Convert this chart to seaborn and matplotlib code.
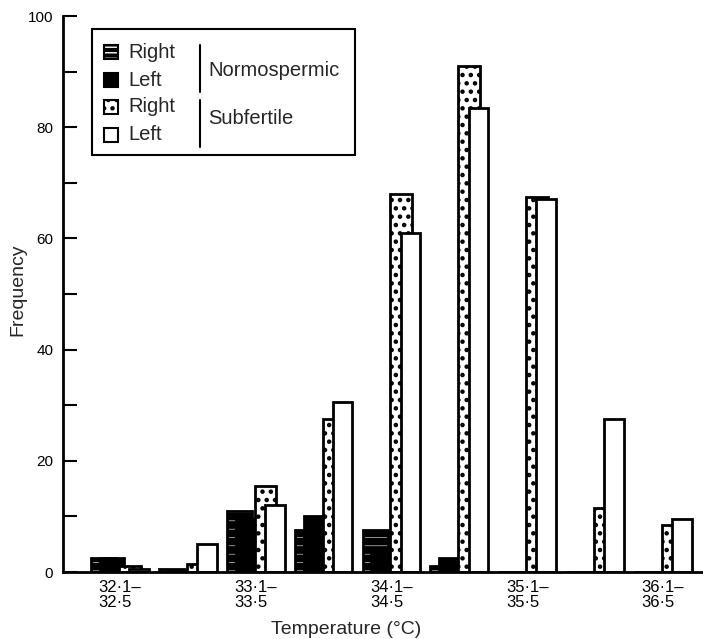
import numpy as np
import seaborn as sns
import matplotlib as mpl

mpl.use("Agg")

import matplotlib.pyplot as plt
from matplotlib.patches import Rectangle


# temperature bins (deg C) and frequencies
BINS = ["32·1–32·5", "32·6–33·0", "33·1–33·5", "33·6–34·0", "34·1–34·5",
        "34·6–35·0", "35·1–35·5", "35·6–36·0", "36·1–36·5"]
NORMO_RIGHT = [2.5, 0.6, 11, 7.5, 7.5, 1, 0, 0, 0]
NORMO_LEFT = [2.5, 0.3, 9.5, 10, 4, 2.5, 0, 0, 0]
SUB_RIGHT = [1, 1.5, 15.5, 27.5, 68, 91, 67.5, 11.5, 8.5]
SUB_LEFT = [0.5, 5, 12, 30.5, 61, 83.5, 67, 27.5, 9.5]
LABELED_BINS = [0, 2, 4, 6, 8]

# bar layout inside one bin (bin = 1 unit): left edge, width
NR_POS, NR_W = 0.0, 0.37
NL_POS, NL_W = 0.13, 0.35
SR_POS, SR_W = 0.41, 0.32
SL_POS, SL_W = 0.56, 0.29
LW = 2.0

sns.set_theme(style="ticks")
plt.rcParams["font.family"] = ["Liberation Sans", "DejaVu Sans"]
plt.rcParams["hatch.linewidth"] = 1.2

fig = plt.figure(figsize=(7.03, 6.39), dpi=100)
ax = fig.add_axes([63 / 703, 67 / 639, 640 / 703, 556 / 639])

idx = np.arange(len(BINS))


def barras(valores, pos, larg, **kws):
    sns.barplot(x=idx + pos + larg / 2, y=valores, native_scale=True, orient="x",
                width=larg, errorbar=None, saturation=1, ax=ax, **kws)


# normospermic right: black with faint white horizontal lines, then outline
with mpl.rc_context({"hatch.linewidth": 0.4}):
    barras(NORMO_RIGHT, NR_POS, NR_W, color="black", edgecolor="white", hatch="--", linewidth=0)
barras(NORMO_RIGHT, NR_POS, NR_W, color="black", fill=False, linewidth=LW)
barras(NORMO_LEFT, NL_POS, NL_W, color="black", edgecolor="black", linewidth=LW)
with mpl.rc_context({"hatch.linewidth": 2.0}):
    barras(SUB_RIGHT, SR_POS, SR_W, color="white", edgecolor="black", hatch="..", linewidth=LW)
barras(SUB_LEFT, SL_POS, SL_W, color="white", edgecolor="black", linewidth=LW)

ax.set_xlim(-0.412, 9.013)
ax.set_ylim(0, 100)

ax.set_yticks(np.arange(0, 101, 20))
ax.set_yticks(np.arange(10, 100, 20), minor=True)
ax.tick_params(axis="y", which="both", direction="in", length=10, width=1.5,
               labelsize=11, pad=7, colors="black")
centro = (SL_POS + SL_W) / 2
ax.set_xticks([i + centro for i in LABELED_BINS])
ax.set_xticklabels([BINS[i].replace("–", "–\n") for i in LABELED_BINS])
ax.tick_params(axis="x", length=0, labelsize=12, pad=6, colors="black")
for rotulo in ax.get_xticklabels():
    rotulo.set_linespacing(1.0)
    rotulo.set_multialignment("left")

sns.despine(ax=ax)
for lado in ["left", "bottom"]:
    ax.spines[lado].set_linewidth(LW)
    ax.spines[lado].set_color("black")

ax.set_xlabel("Temperature (°C)", fontsize=14)
ax.xaxis.set_label_coords((346 - 63) / 640, -0.088)
ax.set_ylabel("Frequency", fontsize=14)
ax.yaxis.set_label_coords(-0.058, 0.507)


def pa(px, py):
    # pixel position in the figure -> axes fraction
    return (px - 63) / 640, (572 - py) / 556


# legend box drawn by hand (two groups with brackets)
x0, y0 = pa(92, 155)
x1, y1 = pa(355, 29)
ax.add_patch(Rectangle((x0, y0), x1 - x0, y1 - y0, transform=ax.transAxes,
                       facecolor="white", edgecolor="black", linewidth=1.5,
                       zorder=5, clip_on=False))

itens = [
    ("Right", dict(facecolor="black", edgecolor="white", hatch="---", linewidth=0), 1.0),
    ("Left", dict(facecolor="black", edgecolor="black", linewidth=1.5), 1.0),
    ("Right", dict(facecolor="white", edgecolor="black", hatch="..", linewidth=1.5), 2.0),
    ("Left", dict(facecolor="white", edgecolor="black", linewidth=1.5), 1.0),
]
linhas_py = [52, 80, 107, 135]
mw, mh = 14 / 640, 14 / 556
for (texto, estilo, hlw), py in zip(itens, linhas_py):
    mx, my = pa(104, py)
    with mpl.rc_context({"hatch.linewidth": hlw}):
        ax.add_patch(Rectangle((mx, my - mh / 2), mw, mh, transform=ax.transAxes,
                               zorder=6, clip_on=False, **estilo))
    tx, ty = pa(128, py)
    ax.text(tx, ty, texto, transform=ax.transAxes, fontsize=14.5,
            va="center", ha="left", zorder=7)
mx, my = pa(104, 52)
ax.add_patch(Rectangle((mx, my - mh / 2), mw, mh, transform=ax.transAxes,
                       facecolor="none", edgecolor="black", linewidth=1.5,
                       zorder=6, clip_on=False))

for (ya, yb), grupo, yg in [((45, 92), "Normospermic", 70), ((100, 147), "Subfertile", 119)]:
    bx, by0 = pa(200, ya)
    _, by1 = pa(200, yb)
    ax.plot([bx, bx], [by0, by1], color="black", linewidth=1.5,
            transform=ax.transAxes, zorder=7, clip_on=False)
    gx, gy = pa(208, yg)
    ax.text(gx, gy, grupo, transform=ax.transAxes, fontsize=14.5,
            va="center", ha="left", zorder=7)

fig.savefig("out.png", dpi=100)
